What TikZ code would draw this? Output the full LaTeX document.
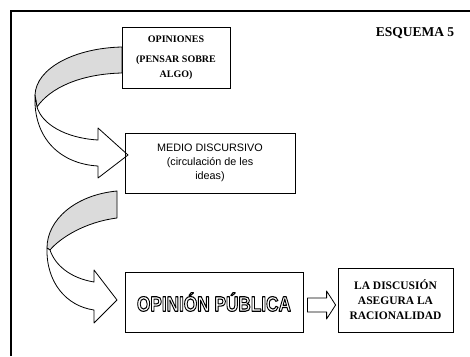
\documentclass[tikz,border=0pt]{standalone}
\usepackage{fontspec}
\setmainfont{Liberation Serif}
\newfontfamily\arialf{Liberation Sans}
\usepackage{graphicx}
\usetikzlibrary{calc}
\newcommand{\hollowtext}[1]{{\color{white}\special{pdf:literal direct 0 G 2 Tr 1.1 w 1 j}#1\special{pdf:literal direct 0 Tr}}}
\begin{document}
\begin{tikzpicture}[x=1pt,y=-1pt,
  box/.style={draw, line width=0.8pt, rectangle, inner sep=0pt, align=center},
  band/.style={draw, line width=0.8pt, line join=round},
  back/.style={band, fill=black!14},
  front/.style={band, fill=white}]
\useasboundingbox (0,0) rectangle (470,356);
\fill[white] (0,0) rectangle (470,356);
% frame
\draw[line width=1.2pt] (11,356) -- (11,11) -- (470,11);
% title
\node[font=\bfseries\fontsize{13.5}{15}\selectfont] (esq) at (415,33) {ESQUEMA 5};
% curved arrow 1 (back band, then front band)
\draw[back] (122,47) .. controls (75,48) and (36,68) .. (35,95) -- (37,107)
  .. controls (50,88) and (80,74) .. (122,73) -- cycle;
\draw[front] (35,95) .. controls (33,140) and (62,164) .. (98,166) -- (98,178) -- (128,155)
  -- (98,128) -- (98,140) .. controls (65,138) and (42,124) .. (37,107) -- cycle;
% curved arrow 2
\draw[back] (117,191) .. controls (75,195) and (47,220) .. (47,248) -- (50,250)
  .. controls (60,238) and (85,222) .. (117,218) -- cycle;
\draw[front] (47,248) .. controls (46,282) and (66,306) .. (94,310) -- (94,323) -- (117,300)
  -- (94,270) -- (94,282) .. controls (70,278) and (55,265) .. (50,250) -- cycle;
% boxes
\node[box, minimum width=108pt, minimum height=61pt,
      font=\bfseries\fontsize{10}{15}\selectfont] (op) at (176,57.5)
  {OPINIONES\\[5pt](PENSAR SOBRE\\ALGO)};
\node[box, minimum width=170pt, minimum height=60pt,
      font=\arialf\fontsize{10.8}{14}\selectfont] (medio) at (210,163)
  {MEDIO DISCURSIVO\\(circulación de les\\ideas)};
\node[box, minimum width=178pt, minimum height=60pt] (pub) at (214,302)
  {\scalebox{0.82}[1]{\arialf\bfseries\fontsize{21}{21}\selectfont\hollowtext{OPINIÓN PÚBLICA}}};
\node[box, minimum width=115pt, minimum height=64pt,
      font=\bfseries\fontsize{11.5}{15}\selectfont] (disc) at (395.5,300)
  {LA DISCUSIÓN\\ASEGURA LA\\RACIONALIDAD};
% block arrow between pub and disc
\coordinate (bs) at ($(pub.east)+(4,3)$);
\coordinate (bt) at ($(disc.west)+(-2,5)$);
\draw[front] ($(bs)+(0,-7)$) -- ($(bt)+(-9,-7)$) -- ($(bt)+(-9,-14)$) -- (bt)
  -- ($(bt)+(-9,14)$) -- ($(bt)+(-9,7)$) -- ($(bs)+(0,7)$) -- cycle;
\end{tikzpicture}
\end{document}
